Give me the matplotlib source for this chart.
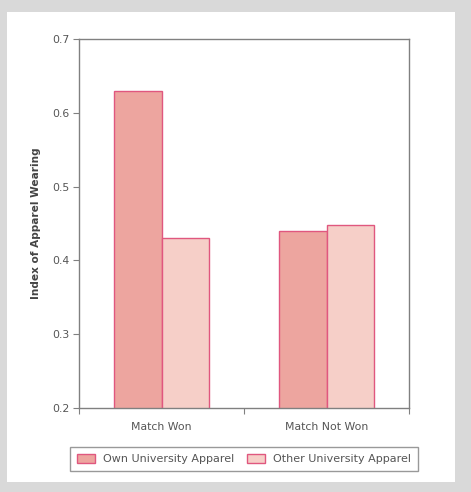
import matplotlib
matplotlib.use("Agg")
import matplotlib.pyplot as plt
from matplotlib.patches import Rectangle
import numpy as np

categories = ["Match Won", "Match Not Won"]
series_names = ["Own University Apparel", "Other University Apparel"]
own_values = [0.63, 0.44]
other_values = [0.43, 0.448]
y_ticks = [0.2, 0.3, 0.4, 0.5, 0.6, 0.7]

W, H = 471, 492
fig = plt.figure(figsize=(W / 100, H / 100), dpi=100)
fig.patch.set_facecolor("#d9d9d9")
fig.patches.append(Rectangle((7 / W, 1 - 482 / H), (455 - 7) / W, (482 - 12) / H,
                             transform=fig.transFigure, facecolor="white",
                             edgecolor="none", zorder=-10))

ax = fig.add_axes([79 / W, 1 - 408 / H, (409 - 79) / W, (408 - 39) / H])
ax.set_zorder(5)
ax.set_facecolor("white")

x = np.arange(len(categories))
bw = 0.29
edge = "#e0577f"
b1 = ax.bar(x - bw / 2, own_values, bw, color="#eda59f", edgecolor=edge, linewidth=1.0,
            label=series_names[0])
b2 = ax.bar(x + bw / 2, other_values, bw, color="#f6cfc8", edgecolor=edge, linewidth=1.0,
            label=series_names[1])

ax.set_xlim(-0.5, 1.5)
ax.set_ylim(0.2, 0.7)
ax.set_yticks(y_ticks)
ax.set_yticklabels([f"{v:.1f}" for v in y_ticks])
ax.set_xticks([-0.5, 0.5, 1.5])
ax.set_xticklabels([])
ax.set_xticks(x, minor=True)
ax.set_xticklabels(categories, minor=True)
ax.tick_params(axis="x", which="minor", length=0, pad=10)
ax.tick_params(axis="x", which="major", length=4, color="#808080", direction="out")
ax.tick_params(axis="y", length=4, color="#808080", direction="out", pad=3)
for lab in ax.get_yticklabels() + ax.get_xticklabels(minor=True):
    lab.set_fontsize(7.8)
    lab.set_color("#555555")
for s in ax.spines.values():
    s.set_color("#808080")
    s.set_linewidth(1.0)

ax.set_ylabel("Index of Apparel Wearing", fontsize=7.6, fontweight="bold", color="#444444",
              labelpad=8)

leg = fig.legend(handles=[b1, b2], labels=series_names, loc="center",
                 bbox_to_anchor=(244 / W, 1 - 459 / H), ncol=2, fontsize=8.0,
                 frameon=True, fancybox=False, edgecolor="#808080",
                 handlelength=1.6, handleheight=0.9, columnspacing=1.2,
                 borderpad=0.6, handletextpad=0.7)
leg.get_frame().set_linewidth(1.0)
for t in leg.get_texts():
    t.set_color("#555555")

fig.savefig("out.png", dpi=100, facecolor=fig.get_facecolor())
